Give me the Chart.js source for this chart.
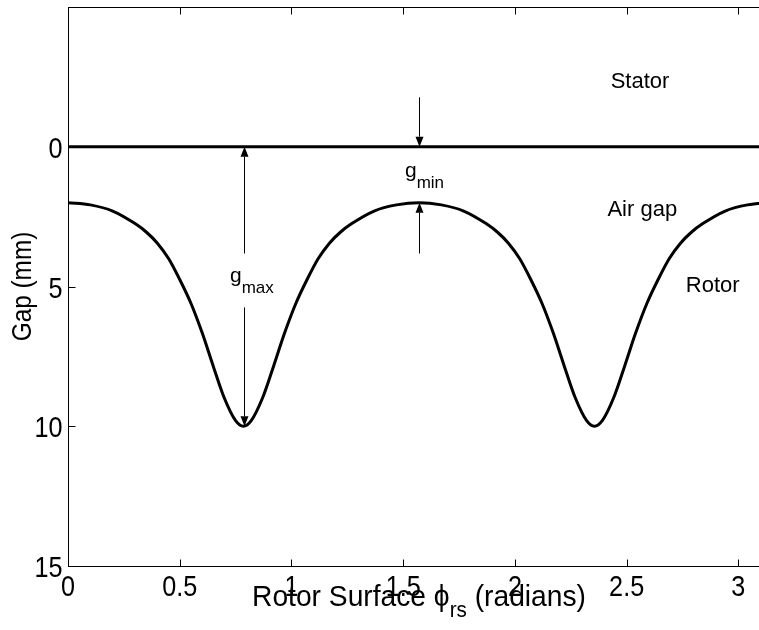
<!DOCTYPE html>
<html>
<head>
<meta charset="utf-8">
<script src="https://cdn.jsdelivr.net/npm/chart.js@4"></script>
<style>
  html, body { margin: 0; padding: 0; background: #fff; overflow: hidden; }
  #wrap { width: 790px; height: 630px; }
</style>
</head>
<body>
<div id="wrap"><canvas id="gapChart" width="790" height="630"></canvas></div>
<script>
// --- data ---
const rotorPhi = [0, 0.10, 0.20, 0.30, 0.35, 0.40, 0.45, 0.50, 0.55, 0.60, 0.65, 0.70, 0.75, 0.785,
    0.82, 0.87, 0.92, 0.97, 1.02, 1.07, 1.12, 1.17, 1.22, 1.27, 1.37, 1.47, 1.571,
    1.671, 1.771, 1.871, 1.921, 1.971, 2.021, 2.071, 2.121, 2.171, 2.221, 2.271, 2.321, 2.356,
    2.391, 2.441, 2.491, 2.541, 2.591, 2.641, 2.691, 2.741, 2.791, 2.841, 2.941, 3.041, 3.142];
const rotorGap = [2.00, 2.08, 2.30, 2.75, 3.05, 3.45, 4.00, 4.75, 5.60, 6.65, 7.85, 9.00, 9.80, 10.00,
    9.80, 9.00, 7.85, 6.65, 5.60, 4.75, 4.00, 3.45, 3.05, 2.75, 2.30, 2.08, 2.00,
    2.08, 2.30, 2.75, 3.05, 3.45, 4.00, 4.75, 5.60, 6.65, 7.85, 9.00, 9.80, 10.00,
    9.80, 9.00, 7.85, 6.65, 5.60, 4.75, 4.00, 3.45, 3.05, 2.75, 2.30, 2.08, 2.00];
const statorPhi = [0, Math.PI];
const statorGap = [0, 0];
const xTickValues = [0, 0.5, 1, 1.5, 2, 2.5, 3];
const yTickValues = [0, 5, 10, 15];

// annotation arrows (data units), head drawn at y1
const arrows = [
    { x: Math.PI / 2, y0: -1.77, y1: 0 },
    { x: Math.PI / 2, y0: 3.82, y1: 2.0 },
    { x: Math.PI / 4, y0: 3.82, y1: 0 },
    { x: Math.PI / 4, y0: 5.75, y1: 10 }
];
const textLabels = [
    { text: 'Stator', x: 2.56, y: -2.1 },
    { text: 'Air gap', x: 2.57, y: 2.46 },
    { text: 'Rotor', x: 2.885, y: 5.21 }
];
const subLabels = [
    { main: 'g', sub: 'max', x: 0.725, y: 4.85 },
    { main: 'g', sub: 'min', x: 1.508, y: 1.1 }
];

const SANS = "'Liberation Sans', Arial, Helvetica, sans-serif";

function toPoints(xs, ys) {
    return xs.map((x, i) => ({ x: x, y: ys[i] }));
}

// text squeezed horizontally, like the narrow Helvetica of the original
function narrowText(ctx, text, x, y, size, squeeze, align) {
    ctx.save();
    ctx.font = size + 'px ' + SANS;
    ctx.translate(x, y);
    ctx.scale(squeeze, 1);
    ctx.textAlign = align;
    ctx.fillText(text, 0, 0);
    ctx.restore();
}

function drawArrow(ctx, px, py0, py1) {
    const dir = py1 > py0 ? 1 : -1;
    const headLen = 10, headHalf = 4;
    ctx.beginPath();
    ctx.moveTo(px, py0);
    ctx.lineTo(px, py1 - dir * headLen);
    ctx.stroke();
    ctx.beginPath();
    ctx.moveTo(px, py1);
    ctx.lineTo(px - headHalf, py1 - dir * headLen);
    ctx.lineTo(px + headHalf, py1 - dir * headLen);
    ctx.closePath();
    ctx.fill();
}

const annotationPlugin = {
    id: 'gapAnnotations',
    afterDatasetsDraw(chart) {
        const ctx = chart.ctx;
        const xs = chart.scales.x, ys = chart.scales.y;
        ctx.save();
        ctx.strokeStyle = '#000';
        ctx.fillStyle = '#000';
        ctx.lineWidth = 1;
        arrows.forEach(a => {
            drawArrow(ctx, Math.round(xs.getPixelForValue(a.x)) + 0.5,
                ys.getPixelForValue(a.y0), ys.getPixelForValue(a.y1));
        });

        ctx.textBaseline = 'alphabetic';
        ctx.font = '22px ' + SANS;
        ctx.textAlign = 'center';
        textLabels.forEach(l => {
            ctx.fillText(l.text, xs.getPixelForValue(l.x), ys.getPixelForValue(l.y));
        });

        ctx.textAlign = 'left';
        subLabels.forEach(l => {
            const px = xs.getPixelForValue(l.x), py = ys.getPixelForValue(l.y);
            ctx.font = '21px ' + SANS;
            ctx.fillText(l.main, px, py);
            const w = ctx.measureText(l.main).width;
            ctx.font = '17px ' + SANS;
            ctx.fillText(l.sub, px + w, py + 11);
        });
        ctx.restore();
    },
    afterDraw(chart) {
        const ctx = chart.ctx;
        const area = chart.chartArea;
        const xs = chart.scales.x, ys = chart.scales.y;
        ctx.save();
        ctx.strokeStyle = '#000';
        ctx.fillStyle = '#000';
        ctx.lineWidth = 1;
        const L = Math.round(area.left) + 0.5, R = Math.round(area.right) + 0.5;
        const T = Math.round(area.top) + 0.5, B = Math.round(area.bottom) + 0.5;
        ctx.strokeRect(L, T, R - L, B - T);

        // inward ticks
        const tick = 7;
        ctx.beginPath();
        xs.ticks.forEach(t => {
            const px = Math.round(xs.getPixelForValue(t.value)) + 0.5;
            ctx.moveTo(px, B); ctx.lineTo(px, B - tick);
            ctx.moveTo(px, T); ctx.lineTo(px, T + tick);
        });
        ys.ticks.forEach(t => {
            const py = Math.round(ys.getPixelForValue(t.value)) + 0.5;
            ctx.moveTo(L, py); ctx.lineTo(L + tick, py);
            ctx.moveTo(R, py); ctx.lineTo(R - tick, py);
        });
        ctx.stroke();

        // tick labels
        ctx.textBaseline = 'alphabetic';
        xs.ticks.forEach(t => {
            narrowText(ctx, String(t.value), xs.getPixelForValue(t.value), B + 29, 30, 0.84, 'center');
        });
        ys.ticks.forEach(t => {
            narrowText(ctx, String(t.value), L - 6, ys.getPixelForValue(t.value) + 11, 30, 0.84, 'right');
        });

        // y title
        ctx.save();
        ctx.translate(23, (area.top + area.bottom) / 2);
        ctx.rotate(-Math.PI / 2);
        ctx.scale(0.87, 1);
        ctx.textAlign = 'center';
        ctx.textBaseline = 'middle';
        ctx.font = '28px ' + SANS;
        ctx.fillText('Gap (mm)', 0, 0);
        ctx.restore();

        // x title with subscript
        const sq = 0.94;
        const parts = [
            { t: 'Rotor Surface \u03D5', size: 30, dy: 0 },
            { t: 'rs', size: 22, dy: 11 },
            { t: ' (radians)', size: 30, dy: 0 }
        ];
        let total = 0;
        parts.forEach(p => {
            ctx.font = p.size + 'px ' + SANS;
            p.w = ctx.measureText(p.t).width * sq;
            total += p.w;
        });
        let cx = (area.left + area.right) / 2 - total / 2;
        parts.forEach(p => {
            narrowText(ctx, p.t, cx, 606 + p.dy, p.size, sq, 'left');
            cx += p.w;
        });
        ctx.restore();
    }
};

new Chart(document.getElementById('gapChart'), {
    type: 'scatter',
    data: {
        datasets: [
            {
                label: 'Stator',
                data: toPoints(statorPhi, statorGap),
                showLine: true,
                borderColor: '#000',
                borderWidth: 3,
                pointRadius: 0
            },
            {
                label: 'Rotor',
                data: toPoints(rotorPhi, rotorGap),
                showLine: true,
                borderColor: '#000',
                borderWidth: 3,
                pointRadius: 0,
                cubicInterpolationMode: 'monotone'
            }
        ]
    },
    options: {
        responsive: false,
        animation: false,
        devicePixelRatio: 1,
        layout: { padding: { top: 7, right: 20, left: 0, bottom: 0 } },
        plugins: { legend: { display: false }, tooltip: { enabled: false } },
        scales: {
            x: {
                type: 'linear',
                min: 0,
                max: Math.PI,
                grid: { display: false },
                border: { display: false },
                ticks: { display: false },
                afterBuildTicks: scale => { scale.ticks = xTickValues.map(v => ({ value: v })); },
                afterFit: scale => { scale.height = 64; scale.paddingLeft = 0; scale.paddingRight = 0; }
            },
            y: {
                type: 'linear',
                min: -5,
                max: 15,
                reverse: true,
                grid: { display: false },
                border: { display: false },
                ticks: { display: false },
                afterBuildTicks: scale => { scale.ticks = yTickValues.map(v => ({ value: v })); },
                afterFit: scale => { scale.width = 68; scale.paddingTop = 0; scale.paddingBottom = 0; }
            }
        }
    },
    plugins: [annotationPlugin]
});
</script>
</body>
</html>
